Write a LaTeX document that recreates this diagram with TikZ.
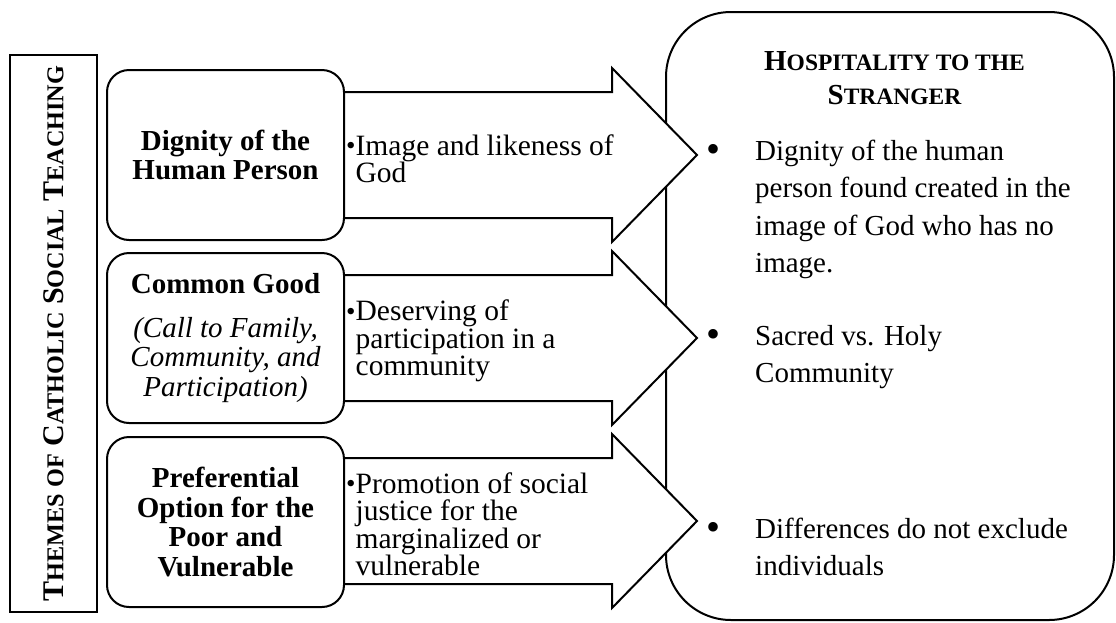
\documentclass[tikz,border=0pt]{standalone}
\usepackage{fontspec}
\setmainfont{Liberation Serif}
\usetikzlibrary{positioning}

\newcommand{\ptbul}{\raisebox{0.5pt}{\fontsize{27}{27}\selectfont\textbullet}}
\newcommand{\hbul}{\raisebox{-2.5pt}{\fontsize{40}{40}\selectfont\textbullet}}
\newcommand{\mysc}[2]{#1{\fontsize{23.5}{23.5}\selectfont #2}}
\newcommand{\mybigsc}[2]{#1{\fontsize{24.2}{24.2}\selectfont #2}}

\tikzset{
  theme/.style={draw, line width=2pt, fill=white, rounded corners=22pt,
    minimum width=237pt, minimum height=170pt, align=center,
    font=\fontsize{29}{29.5}\selectfont\bfseries},
  point/.style={inner sep=0pt, align=left, font=\fontsize{29.5}{27.5}\selectfont},
  blockarrow/.style={draw, line width=2pt, fill=white, line join=miter},
  hospitem/.style={anchor=north west, inner sep=0pt, font=\fontsize{29}{37.5}\selectfont},
}

\begin{document}
\begin{tikzpicture}[x=1pt, y=-1pt]
\useasboundingbox (0,0) rectangle (1116,622);
% the big box goes first, the arrows lie over its left side
\node[draw, line width=2pt, rounded corners=65pt, minimum width=448pt, minimum height=608pt] (hosp) at (890,316) {};
\node[anchor=north, inner sep=0pt, align=center, font=\fontsize{29}{34}\selectfont\bfseries] (hosptitle) at (894.5,51) {\mysc{H}{OSPITALITY TO THE}\\\mysc{S}{TRANGER}};
\node[hospitem] (hospa) at (706,134) {\begin{tabular}{@{}p{49pt}@{}l@{}}\hbul & Dignity of the human\\ & person found created in the\\ & image of God who has no\\ & image.\end{tabular}};
\node[hospitem] (hospb) at (706,319) {\begin{tabular}{@{}p{49pt}@{}l@{}}\hbul & Sacred vs. Holy\\ & Community\end{tabular}};
\node[hospitem] (hospc) at (706,512) {\begin{tabular}{@{}p{49pt}@{}l@{}}\hbul & Differences do not exclude\\ & individuals\end{tabular}};

\draw[blockarrow] (330,92) -- (612,92) -- (612,68) -- (697,155) -- (612,242) -- (612,218) -- (330,218) -- cycle;
\draw[blockarrow] (330,275) -- (612,275) -- (612,251) -- (697,338) -- (612,425) -- (612,401) -- (330,401) -- cycle;
\draw[blockarrow] (330,458) -- (612,458) -- (612,434) -- (697,521) -- (612,608) -- (612,584) -- (330,584) -- cycle;

\node[theme] (dignity) at (225.5,155) {Dignity of the\\Human Person};
\node[theme] (common) at (225.5,338) {Common Good\\[14pt]{\mdseries\itshape (Call to Family,}\\{\mdseries\itshape Community, and}\\{\mdseries\itshape Participation)}};
\node[theme] (option) at (225.5,522) {Preferential\\Option for the\\Poor and\\Vulnerable};

\node[point, right=1pt of dignity, yshift=-4pt] (dignitypt) {\ptbul Image and likeness of\\\hphantom{\ptbul}God};
\node[point, right=1pt of common, yshift=-3pt] (commonpt) {\ptbul Deserving of\\\hphantom{\ptbul}participation in a\\\hphantom{\ptbul}community};
\node[point, right=1pt of option, yshift=-2pt] (optionpt) {\ptbul Promotion of social\\\hphantom{\ptbul}justice for the\\\hphantom{\ptbul}marginalized or\\\hphantom{\ptbul}vulnerable};

\node[draw, line width=2.5pt, rotate=90, minimum width=557pt, minimum height=87pt, font=\fontsize{30}{30}\selectfont\bfseries] (cst) at (53.5,333.5) {\mybigsc{T}{HEMES OF} \mybigsc{C}{ATHOLIC} \mybigsc{S}{OCIAL} \mybigsc{T}{EACHING}};
\end{tikzpicture}
\end{document}
